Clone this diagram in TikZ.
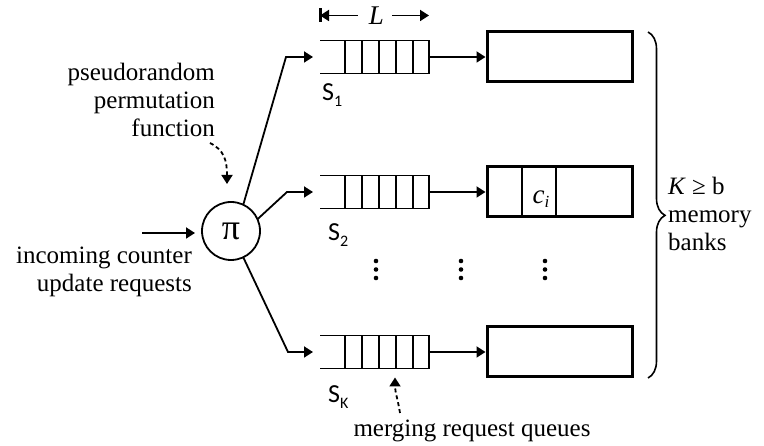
\documentclass[tikz,border=0pt]{standalone}
\usepackage{fontspec}
\setmainfont{Liberation Serif}
\newfontfamily\sansfnt{Carlito}
\usetikzlibrary{arrows.meta,decorations.pathreplacing,calc}
\begin{document}
\begin{tikzpicture}[x=1pt,y=-1pt,
  ln/.style={line width=1.8pt},
  tipp/.style={-{Triangle[length=9pt,width=11pt]}},
  qbox/.style={minimum width=109pt,minimum height=33pt,inner sep=0pt,outer sep=0pt},
  bank/.style={draw,line width=3pt,minimum width=145pt,minimum height=50pt,inner sep=0pt,outer sep=0pt},
  txt/.style={font=\fontsize{25}{28}\selectfont,inner sep=0pt},
  slab/.style={font=\sansfnt\fontsize{26}{26}\selectfont,inner sep=0pt,anchor=base west},
  dsh/.style={line width=1.8pt,dash pattern=on 4pt off 3pt}
]
\useasboundingbox (0,0) rectangle (764,446);

% queues
\node[qbox] (q1) at (374.5,57) {};
\node[qbox] (q2) at (374.5,192) {};
\node[qbox] (qK) at (374.5,352) {};
\foreach \q in {q1,q2,qK}{
  \draw[ln] (\q.north west) -- (\q.north east) -- (\q.south east) -- (\q.south west);
  \foreach \d in {25,42,59,76,93}
    \draw[ln] ($(\q.north west)+(\d,0)$) -- ($(\q.south west)+(\d,0)$);
}

% memory banks
\node[bank] (b1) at (559.5,57) {};
\node[bank] (b2) at (559.5,192) {};
\node[bank] (bK) at (559.5,352) {};
\draw[line width=2.5pt] ($(b2.north west)+(35,0)$) -- ($(b2.south west)+(35,0)$);
\draw[line width=2.5pt] ($(b2.north west)+(69,0)$) -- ($(b2.south west)+(69,0)$);
\node[txt,font=\fontsize{27}{27}\selectfont] (ci) at (541,199) {\textit{c}\raisebox{-4pt}{\fontsize{17}{17}\selectfont\textit{i}}};

\foreach \q/\b in {q1/b1,q2/b2,qK/bK}
  \draw[ln,tipp,shorten >=1.5pt] (\q.east) -- (\q.east -| \b.west);

% permutation circle
\node[draw,circle,ln,minimum size=58pt,inner sep=0pt,outer sep=0pt] (pi) at (231,231) {\fontsize{36}{36}\selectfont π};

\coordinate (inS) at (142,233);
\draw[ln,tipp,shorten >=7pt] (inS) -- (inS -| pi.west);

\draw[ln,tipp,shorten >=7pt] (pi.65) -- ($(q1.west)+(-34,0)$) -- (q1.west);
\draw[ln,tipp,shorten >=7pt] (pi.24) -- ($(q2.west)+(-33,0)$) -- (q2.west);
\draw[ln,tipp,shorten >=7pt] (pi.-65) -- ($(qK.west)+(-32,0)$) -- (qK.west);

% L dimension
\coordinate (Lleft) at ($(q1.north west)+(0,-25)$);
\coordinate (Lright) at ($(q1.north east)+(0,-25)$);
\node[inner sep=0pt,font=\fontsize{27}{27}\selectfont] (L) at ($(q1.north)+(2,-25)$) {\textit{L}};
\draw[ln,tipp] ($(L.west)+(-11,0)$) -- (Lleft);
\draw[ln,tipp] ($(L.east)+(8,0)$) -- (Lright);
\draw[line width=3pt] ($(Lleft)+(0,-7)$) -- ($(Lleft)+(0,7)$);

% queue labels
\node[slab] (s1) at (322,101) {S\raisebox{-6pt}{\fontsize{16}{16}\selectfont 1}};
\node[slab] (s2) at (328,241) {S\raisebox{-6pt}{\fontsize{16}{16}\selectfont 2}};
\node[slab] (sK) at (328,403) {S\raisebox{-6pt}{\fontsize{16}{16}\selectfont K}};

% vertical dots
\foreach \x in {376,461,545}
  \foreach \y in {261,269.5,278}
    \fill (\x,\y) circle (2.3pt);

% texts
\node[txt,align=right,anchor=north east] (prf) at (215,63) {pseudorandom\\permutation\\function};
\node[txt,align=right,anchor=north east] (inc) at (192,247) {incoming counter\\update requests};
\node[txt,align=left,anchor=north west] (mem) at (668,177) {\textit{K} ≥ b\\memory\\banks};
\node[txt,anchor=base] (mrg) at (472,437) {merging request queues};

% dashed pointers
\coordinate (pfEnd) at (210,143);
\draw[dsh,tipp] (pfEnd) .. controls (224,150) and (227,160) .. ($(pi.north)+(-4,-18)$);
\coordinate (mgStart) at (400,413);
\draw[dsh,tipp] (mgStart) .. controls (398,400) and (395,392) .. ($(qK.south)+(20.5,9)$);

% brace
\draw[line width=1.6pt,decorate,decoration={brace,amplitude=17pt,aspect=0.53}] (648,32) -- (648,378);
\end{tikzpicture}
\end{document}
